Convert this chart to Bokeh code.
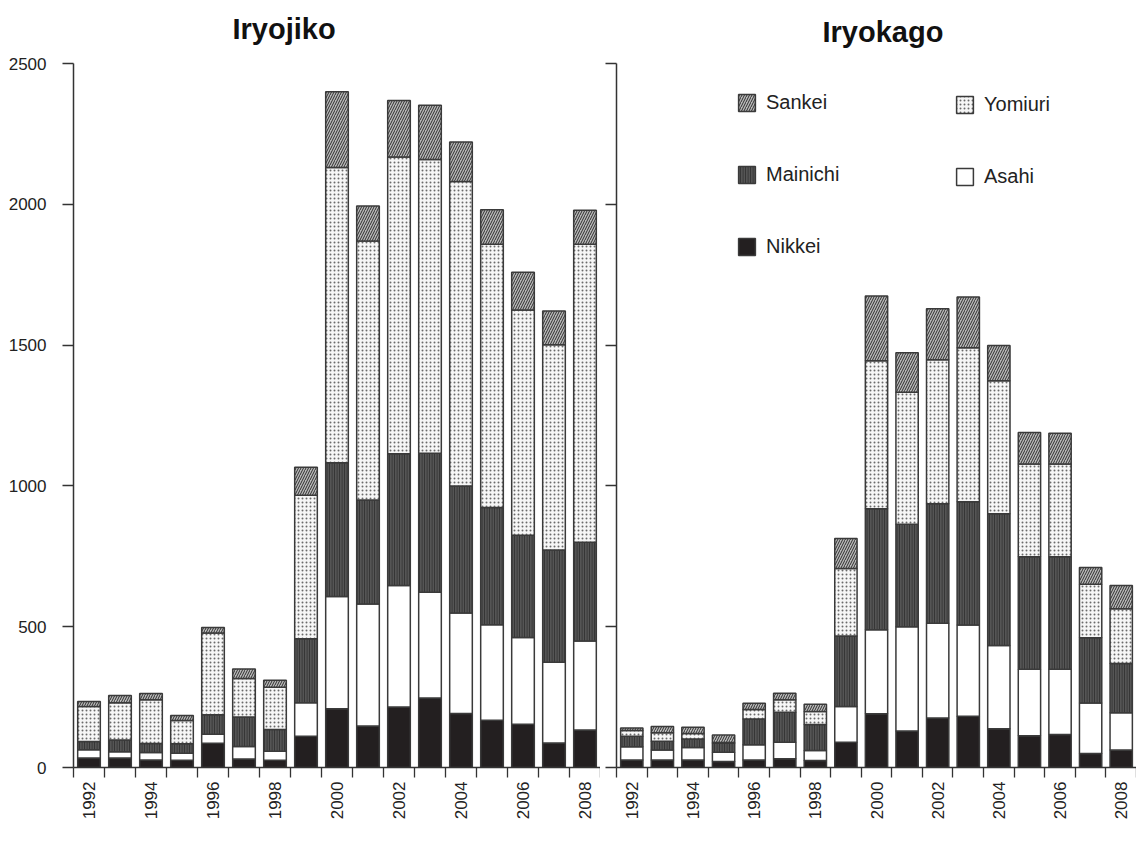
import math
import numpy as np
from bokeh.plotting import figure
from bokeh.models import ColumnDataSource, FixedTicker, Legend, LegendItem, Label
from bokeh.layouts import row
from bokeh.embed import file_html
from bokeh.resources import INLINE

years = list(range(1992, 2009))
series = ["Nikkei", "Asahi", "Mainichi", "Yomiuri", "Sankei"]
y_ticks = [0, 500, 1000, 1500, 2000, 2500]
x_label_years = list(range(1992, 2009, 2))

# Iryojiko (left panel)
jiko_nikkei = [34, 34, 27, 26, 86, 30, 26, 111, 209, 147, 215, 247, 192, 168, 154, 87, 133]
jiko_asahi = [29, 22, 26, 25, 32, 45, 32, 119, 398, 434, 431, 375, 357, 339, 308, 287, 316]
jiko_mainichi = [29, 42, 32, 33, 69, 104, 77, 227, 475, 369, 468, 494, 451, 416, 363, 398, 351]
jiko_yomiuri = [125, 132, 156, 83, 291, 137, 150, 510, 1049, 920, 1054, 1043, 1081, 935, 800, 729, 1058]
jiko_sankei = [17, 26, 22, 18, 19, 34, 25, 99, 269, 124, 201, 193, 140, 123, 134, 120, 121]

# Iryokago (right panel)
kago_nikkei = [27, 27, 27, 21, 27, 31, 25, 90, 191, 130, 176, 182, 138, 113, 117, 50, 62]
kago_asahi = [47, 35, 44, 33, 54, 59, 35, 127, 298, 370, 336, 324, 295, 236, 232, 179, 132]
kago_mainichi = [37, 31, 30, 32, 91, 106, 93, 250, 430, 364, 425, 438, 468, 399, 399, 232, 175]
kago_yomiuri = [20, 30, 20, 3, 34, 45, 46, 240, 525, 469, 511, 547, 472, 330, 330, 190, 195]
kago_sankei = [9, 23, 22, 26, 22, 23, 26, 106, 230, 140, 181, 180, 126, 112, 109, 59, 82]

FONT = "Liberation Sans"
EDGE = "#3a3a3a"

styles = {
    "Nikkei": dict(fill_color="#231f20", hatch_pattern=" "),
    "Asahi": dict(fill_color="#ffffff", hatch_pattern=" "),
    "Mainichi": dict(fill_color="#555555", hatch_pattern="|", hatch_color="#2e2e2e",
                     hatch_scale=2.5, hatch_weight=1),
    "Yomiuri": dict(fill_color="#f6f6f6", hatch_pattern=".", hatch_color="#6a6a6a",
                    hatch_scale=4, hatch_weight=1),
    "Sankei": dict(fill_color="#b9b9b9", hatch_pattern="/", hatch_color="#2e2e2e",
                   hatch_scale=5, hatch_weight=1),
}

FRAME_H = 762          # frame spans the title strip too
AXIS_H = 704           # pixels used by 0..2500
Y_MAX = 2500 * FRAME_H / AXIS_H


def make_panel(title, values, left_border, frame_width, show_ylabels, title_x, title_y):
    p = figure(output_backend="svg", toolbar_location=None,
               frame_width=frame_width, frame_height=FRAME_H,
               x_range=(1991.5, 2008.5), y_range=(0, Y_MAX),
               min_border_left=left_border, min_border_right=0,
               min_border_top=5, min_border_bottom=62,
               background_fill_color="white", border_fill_color="white")
    p.outline_line_color = None
    p.grid.visible = False
    p.add_layout(Label(text=title, x=title_x, y=title_y, x_units="screen", y_units="screen",
                       text_font=FONT, text_font_size="29px", text_font_style="bold",
                       text_color="#111111", text_baseline="alphabetic", text_align="left"))

    data = dict(year=years)
    bottom = np.zeros(len(years))
    renderers = {}
    for name in series:
        vals = np.array(values[name], dtype=float)
        data[name + "_b"] = bottom.copy()
        data[name + "_t"] = bottom + vals
        bottom = bottom + vals
    src = ColumnDataSource(data)
    for name in series:
        r = p.vbar(x="year", width=0.73, bottom=name + "_b", top=name + "_t",
                   source=src, line_color=EDGE, line_width=1.5, **styles[name])
        renderers[name] = r

    xa = p.xaxis[0]
    xa.ticker = FixedTicker(ticks=x_label_years,
                            minor_ticks=[1991.5 + i for i in range(18)])
    xa.major_tick_out = 0
    xa.major_tick_in = 0
    xa.minor_tick_out = 10
    xa.minor_tick_in = 0
    xa.minor_tick_line_color = "#333333"
    xa.minor_tick_line_width = 1.3
    xa.axis_line_color = "#333333"
    xa.axis_line_width = 1.5
    xa.major_label_orientation = math.pi / 2
    xa.major_label_standoff = 4
    xa.major_label_text_font = FONT
    xa.major_label_text_font_size = "17px"
    xa.major_label_text_color = "#222222"

    ya = p.yaxis[0]
    ya.ticker = FixedTicker(ticks=y_ticks)
    ya.bounds = (0, 2500)
    ya.major_tick_out = 11
    ya.major_tick_in = 0
    ya.minor_tick_out = 0
    ya.minor_tick_in = 0
    ya.major_tick_line_color = "#333333"
    ya.major_tick_line_width = 1.3
    ya.axis_line_color = "#333333"
    ya.axis_line_width = 1.5
    ya.major_label_text_font = FONT
    ya.major_label_text_font_size = "17px"
    ya.major_label_text_color = "#222222"
    if show_ylabels:
        ya.major_label_standoff = 16
    else:
        ya.major_label_standoff = 0
        ya.major_label_overrides = {t: "" for t in y_ticks}
    return p, renderers


jiko = dict(Nikkei=jiko_nikkei, Asahi=jiko_asahi, Mainichi=jiko_mainichi,
            Yomiuri=jiko_yomiuri, Sankei=jiko_sankei)
kago = dict(Nikkei=kago_nikkei, Asahi=kago_asahi, Mainichi=kago_mainichi,
            Yomiuri=kago_yomiuri, Sankei=kago_sankei)

p1, _ = make_panel("Iryojiko", jiko, 73, 527, True, 159, 739)
p2, rr = make_panel("Iryokago", kago, 16, 520, False, 206, 736)


def make_legend(names, loc):
    lg = Legend(items=[LegendItem(label=n, renderers=[rr[n]]) for n in names],
                location=loc, orientation="vertical",
                glyph_width=21, glyph_height=21, label_height=21,
                label_standoff=9, spacing=49, padding=0, margin=0,
                border_line_color=None, background_fill_alpha=0,
                label_text_font=FONT, label_text_font_size="20px",
                label_text_color="#222222")
    return lg


p2.add_layout(make_legend(["Sankei", "Mainichi", "Nikkei"], (120, 509)))
p2.add_layout(make_legend(["Yomiuri", "Asahi"], (338, 579)))

layout = row(p1, p2)
open("out.html", "w").write(file_html(layout, INLINE))
